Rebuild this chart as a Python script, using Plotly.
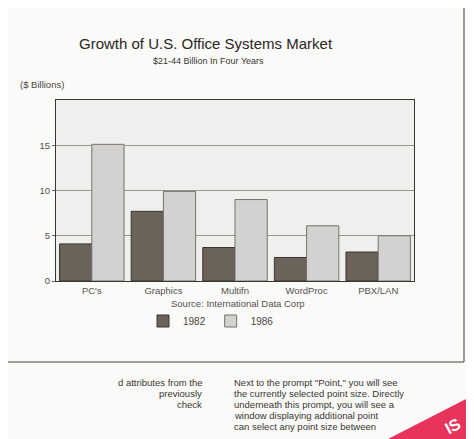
import plotly.graph_objects as go

# ---- data ($ billions) ----
categories = ["PC's", "Graphics", "Multifn", "WordProc", "PBX/LAN"]
series_names = ["1982", "1986"]
sales_1982 = [4.1, 7.7, 3.7, 2.6, 3.2]
sales_1986 = [15.1, 9.9, 9.0, 6.1, 5.0]
y_ticks = [0, 5, 10, 15]

title_text = "Growth of U.S. Office Systems Market"
subtitle_text = "$21-44 Billion In Four Years"
y_title_text = "($ Billions)"
source_text = "Source: International Data Corp"
left_col_lines = ["d attributes from the", "previously", "check"]
right_col_lines = [
    "Next to the prompt \"Point,\" you will see",
    "the currently selected point size. Directly",
    "underneath this prompt, you will see a",
    "window displaying additional point",
    "can select any point size between",
]

# ---- layout geometry (screen pixels; the page body adds an 8px offset) ----
OFF = 8
WIN_W, WIN_H = 474, 439
W, H = WIN_W - OFF, WIN_H - OFF
L, R, T, B = 56, 414, 100, 281


def px(x):
    return (x - L) / (R - L)


def py(y):
    return (B - y) / (B - T)


FONT = "Liberation Sans, Arial, Helvetica, sans-serif"

fig = go.Figure()
fig.add_trace(go.Bar(
    x=categories, y=sales_1982, name=series_names[0],
    marker=dict(color="#6b625a", line=dict(color="#3b342f", width=1)),
))
fig.add_trace(go.Bar(
    x=categories, y=sales_1986, name=series_names[1],
    marker=dict(color="#d3d2d0", line=dict(color="#75726e", width=1)),
))

annotations = [
    dict(text=title_text, x=px(206), y=py(44), font=dict(size=15, color="#2a2623")),
    dict(text=subtitle_text, x=px(208), y=py(61), font=dict(size=9, color="#3a3633")),
    dict(text=y_title_text, x=px(66), y=py(84), xanchor="right", font=dict(size=9.5, color="#4a4642")),
    dict(text=source_text, x=px(238), y=py(303), font=dict(size=9.5, color="#555150")),
]
for i, line in enumerate(left_col_lines):
    annotations.append(dict(text=line, x=px(204), y=py(382 + 11 * i), xanchor="right",
                            font=dict(size=9.5, color="#3a3633")))
for i, line in enumerate(right_col_lines):
    annotations.append(dict(text=line, x=px(232), y=py(382 + 11 * i), xanchor="left",
                            font=dict(size=9.5, color="#3a3633")))
annotations.append(dict(text="<b>IS</b>", x=px(452), y=py(426), textangle=-28,
                        font=dict(size=16, color="#ffffff")))
for a in annotations:
    a.setdefault("xanchor", "center")
    a.update(xref="paper", yref="paper", yanchor="middle", showarrow=False)

shapes = [
    dict(type="rect", xref="paper", yref="paper",
         x0=px(0), x1=px(464), y0=py(0), y1=py(362),
         line=dict(color="#4b4038", width=1), fillcolor="rgba(0,0,0,0)", layer="below"),
    dict(type="path", xref="paper", yref="paper",
         path=f"M {px(386)} {py(440)} L {px(476)} {py(394)} L {px(476)} {py(440)} Z",
         fillcolor="#e8345c", line=dict(width=0), layer="above"),
]

fig.update_layout(
    width=W, height=H,
    margin=dict(l=L - OFF, r=WIN_W - R, t=T - OFF, b=WIN_H - B, autoexpand=False),
    barmode="group", bargap=0.1, bargroupgap=0,
    paper_bgcolor="#fafaf8", plot_bgcolor="#efefed",
    font=dict(family=FONT, color="#3a3633"),
    showlegend=True,
    legend=dict(orientation="h", x=px(211), y=py(321), xanchor="center", yanchor="middle",
                font=dict(size=10, color="#4a4642"), bgcolor="rgba(0,0,0,0)",
                traceorder="normal"),
    annotations=annotations,
    shapes=shapes,
)
fig.update_xaxes(showline=True, mirror=True, linecolor="#3d3530", linewidth=1.2,
                 ticks="", showgrid=False, tickfont=dict(size=9.5, color="#555150"))
fig.update_yaxes(range=[0, 20], tickvals=y_ticks, showline=True, mirror=True,
                 linecolor="#3d3530", linewidth=1.2, ticks="outside", ticklen=3,
                 tickcolor="#6a6662", showgrid=True, gridcolor="#9a9792", gridwidth=1,
                 zeroline=False, tickfont=dict(size=9.5, color="#555150"))

fig.write_html("out.html")
